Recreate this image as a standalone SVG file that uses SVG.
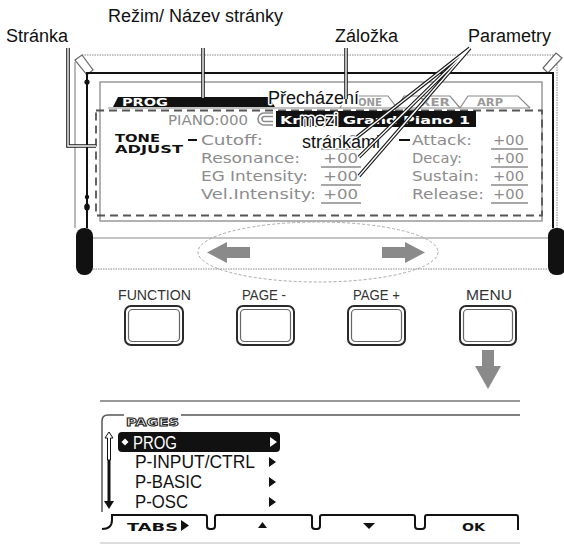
<svg xmlns="http://www.w3.org/2000/svg" width="564" height="545" viewBox="0 0 564 545">
<defs>
<style>
.lbl{font-family:"Liberation Sans",Arial,sans-serif;font-size:18px;fill:#111}
.halo{paint-order:stroke;stroke:#fff;stroke-width:3;stroke-linejoin:round}
.lcd{font-family:"DejaVu Sans",sans-serif;font-size:14px;fill:#8c8c8c}
.pxb{font-family:"DejaVu Sans",sans-serif;font-weight:bold;font-size:11px}
.btnl{font-family:"Liberation Sans",sans-serif;font-size:15px;fill:#333}
.menu{font-family:"Liberation Sans",sans-serif;font-size:18px}
.ldo{fill:none;stroke:#1a1a1a;stroke-width:3.6}
.ldi{fill:none;stroke:#fff;stroke-width:1.4}
.gray{fill:none;stroke:#8a8a8a;stroke-width:1.2}
.dot{fill:none;stroke:#888;stroke-width:1;stroke-dasharray:1.5 1}
.ul{fill:none;stroke:#8a8a8a;stroke-width:1.5}
.btno{fill:#fff;stroke:#2a2a2a;stroke-width:2}
.btni{fill:none;stroke:#666;stroke-width:1.2}
.arr{fill:#8a8a8a}
.blk{fill:#111}
</style>
</defs>

<g id="device-top">
  <path class="dot" d="M82,55 H556"/>
  <path class="gray" d="M75,62 V228"/>
  <path class="dot" d="M557,57 V230"/>
  <polygon points="75,60 82,55 93,70 87,75" fill="#fff" stroke="#666" stroke-width="1.2"/>
  <polygon points="548,73 543,68 556,53 562,58" fill="#fff" stroke="#666" stroke-width="1.2"/>
  <path d="M87,228 V73 H553 V228" fill="none" stroke="#111" stroke-width="2"/>
  <circle cx="87" cy="82" r="2.6" class="blk"/>
  <circle cx="87" cy="197" r="2.2" class="blk"/>
  <ellipse cx="87" cy="207" rx="2.8" ry="3.6" class="blk"/>
  <rect x="100" y="82" width="442" height="139" fill="none" stroke="#999" stroke-width="1.5"/>
  <path class="gray" d="M93,238 H548"/>
  <path class="dot" d="M93,269 H548"/>
  <rect x="76" y="228" width="17" height="47" rx="8" class="blk"/>
  <rect x="548" y="228" width="18" height="47" rx="8" class="blk"/>
  <ellipse cx="318" cy="252" rx="120" ry="30" fill="none" stroke="#aaa" stroke-width="1" stroke-dasharray="3 2"/>
  <polygon class="arr" points="207,252.5 227,242 227,247 250,247 250,258 227,258 227,263"/>
  <polygon class="arr" points="425,252.5 405,242 405,247 382,247 382,258 405,258 405,263"/>
</g>

<g id="display">
  <rect x="96" y="110.5" width="446" height="105" fill="none" stroke="#555" stroke-width="1.8" stroke-dasharray="8 5"/>
  <path class="gray" d="M108,108 H530"/>
  <polygon points="113,107 118,97 269,97 275,107" class="blk"/>
  <text class="pxb" x="122" y="106" fill="#fff" textLength="46" lengthAdjust="spacingAndGlyphs">PROG</text>
  <path class="gray" d="M340,108 L346,96 H388 L397,108 M397,108 L404,96 H450 L460,108 M460,108 L468,96 H518 L530,108"/>
  <text class="pxb" x="358" y="106" fill="#999" textLength="24" lengthAdjust="spacingAndGlyphs">ONE</text>
  <text class="pxb" x="420" y="106" fill="#999" textLength="30" lengthAdjust="spacingAndGlyphs">XER</text>
  <text class="pxb" x="477" y="106" fill="#999" textLength="26" lengthAdjust="spacingAndGlyphs">ARP</text>
  <text class="lcd" x="168" y="125" font-size="15" textLength="80" lengthAdjust="spacingAndGlyphs">PIANO:000</text>
  <path d="M273,113 H264 A6,6 0 0 0 264,125 H273 M273,116.5 H264.5 A2.5,2.5 0 0 0 264.5,121.5 H273" fill="none" stroke="#8c8c8c" stroke-width="1.6"/>
  <rect x="276" y="111" width="200" height="16" class="blk"/>
  <text class="pxb" x="280" y="124" font-size="14" fill="#fff" textLength="20" lengthAdjust="spacingAndGlyphs">Kr</text>
  <text class="pxb" x="343" y="124" font-size="14" fill="#fff" textLength="127" lengthAdjust="spacingAndGlyphs">Grand Piano 1</text>
  <text class="pxb" x="115" y="142" font-size="10" fill="#111" textLength="45" lengthAdjust="spacingAndGlyphs">TONE</text>
  <text class="pxb" x="115" y="153" font-size="10" fill="#111" textLength="68" lengthAdjust="spacingAndGlyphs">ADJUST</text>
  <path d="M188,140 H197 M399,140 H410" stroke="#111" stroke-width="2"/>
  <text class="lcd" x="201" y="145" textLength="62" lengthAdjust="spacingAndGlyphs">Cutoff:</text>
  <text class="lcd" x="201" y="163" textLength="99" lengthAdjust="spacingAndGlyphs">Resonance:</text>
  <text class="lcd" x="201" y="181" textLength="107" lengthAdjust="spacingAndGlyphs">EG Intensity:</text>
  <text class="lcd" x="201" y="199" textLength="115" lengthAdjust="spacingAndGlyphs">Vel.Intensity:</text>
  <text class="lcd" x="323" y="145" textLength="35" lengthAdjust="spacingAndGlyphs">+00</text>
  <text class="lcd" x="323" y="163" textLength="35" lengthAdjust="spacingAndGlyphs">+00</text>
  <text class="lcd" x="323" y="181" textLength="35" lengthAdjust="spacingAndGlyphs">+00</text>
  <text class="lcd" x="323" y="199" textLength="35" lengthAdjust="spacingAndGlyphs">+00</text>
  <text class="lcd" x="412" y="145" textLength="60" lengthAdjust="spacingAndGlyphs">Attack:</text>
  <text class="lcd" x="412" y="163" textLength="50" lengthAdjust="spacingAndGlyphs">Decay:</text>
  <text class="lcd" x="412" y="181" textLength="67" lengthAdjust="spacingAndGlyphs">Sustain:</text>
  <text class="lcd" x="412" y="199" textLength="72" lengthAdjust="spacingAndGlyphs">Release:</text>
  <text class="lcd" x="493" y="145" textLength="31" lengthAdjust="spacingAndGlyphs">+00</text>
  <text class="lcd" x="493" y="163" textLength="31" lengthAdjust="spacingAndGlyphs">+00</text>
  <text class="lcd" x="493" y="181" textLength="31" lengthAdjust="spacingAndGlyphs">+00</text>
  <text class="lcd" x="493" y="199" textLength="31" lengthAdjust="spacingAndGlyphs">+00</text>
  <path class="ul" d="M321,149 H361 M321,167 H361 M321,185 H361 M321,203 H361 M491,149 H528 M491,167 H528 M491,185 H528 M491,203 H528"/>
</g>

<g id="label-prechazeni">
  <text class="lbl halo" x="268" y="104">Přecházení</text>
  <text class="lbl halo" x="300" y="126">mezi</text>
  <text class="lbl halo" x="302" y="148">stránkami</text>
</g>

<g id="connectors">
  <path class="ldo" d="M68,48 V146 H96"/>
  <path class="ldi" d="M68,48 V146 H96"/>
  <path class="ldo" d="M203,48 V98"/>
  <path class="ldi" d="M203,48 V98"/>
  <path class="ldo" d="M346,48 V99"/>
  <path class="ldi" d="M346,48 V99"/>
  <path class="ldo" d="M470,48 L357,137 M470,48 L359,157 M470,48 L359,176"/>
  <path class="ldi" d="M470,48 L357,137 M470,48 L359,157 M470,48 L359,176"/>
</g>

<g id="label-stranka"><text class="lbl" x="6" y="42">Stránka</text></g>
<g id="label-rezim"><text class="lbl" x="108" y="22">Režim/ Název stránky</text></g>
<g id="label-zalozka"><text class="lbl" x="335" y="42">Záložka</text></g>
<g id="label-parametry"><text class="lbl" x="468" y="42">Parametry</text></g>

<g id="btn-function">
  <text class="btnl" x="118" y="300" textLength="73" lengthAdjust="spacingAndGlyphs">FUNCTION</text>
  <rect class="btno" x="125" y="306" width="58" height="39" rx="6"/>
  <rect class="btni" x="128.5" y="309.5" width="51" height="32" rx="4"/>
</g>
<g id="btn-page-minus">
  <text class="btnl" x="242" y="300" textLength="44" lengthAdjust="spacingAndGlyphs">PAGE -</text>
  <rect class="btno" x="237" y="306" width="57" height="39" rx="6"/>
  <rect class="btni" x="240.5" y="309.5" width="50" height="32" rx="4"/>
</g>
<g id="btn-page-plus">
  <text class="btnl" x="353" y="300" textLength="47" lengthAdjust="spacingAndGlyphs">PAGE +</text>
  <rect class="btno" x="348" y="306" width="57" height="39" rx="6"/>
  <rect class="btni" x="351.5" y="309.5" width="50" height="32" rx="4"/>
</g>
<g id="btn-menu">
  <text class="btnl" x="466" y="300" textLength="46" lengthAdjust="spacingAndGlyphs">MENU</text>
  <rect class="btno" x="460" y="306" width="56" height="39" rx="6"/>
  <rect class="btni" x="463.5" y="309.5" width="49" height="32" rx="4"/>
</g>

<g id="menu-arrow">
  <polygon class="arr" points="482,350 494,350 494,366 501,366 488,389 475,366 482,366"/>
</g>

<g id="pages-screen">
  <path d="M100,401 H520" fill="none" stroke="#777" stroke-width="1.5"/>
  <path d="M102,512 V421 Q102,415 108,415 H520" fill="none" stroke="#555" stroke-width="1.5"/>
  <path d="M100,543 H520" fill="none" stroke="#bbb" stroke-width="1"/>
  <rect x="124" y="413" width="57" height="15" fill="#fff"/>
  <text class="pxb" x="126" y="426" fill="#fff" stroke="#222" stroke-width="0.9" textLength="53" lengthAdjust="spacingAndGlyphs">PAGES</text>
  <path d="M109,432 L105,438 H107.5 V460 H110.5 V438 H113 Z" fill="#fff" stroke="#111" stroke-width="1"/>
  <rect x="107.5" y="460" width="3" height="42" class="blk"/>
  <polygon points="104,501 114,501 109,509" class="blk"/>
  <rect x="118" y="432" width="162" height="20" rx="4" class="blk"/>
  <polygon points="125,438.5 128.5,442 125,445.5 121.5,442" fill="#fff"/>
  <text class="menu" x="133" y="448.5" style="fill:#fff" textLength="44" lengthAdjust="spacingAndGlyphs">PROG</text>
  <polygon points="270,437 270,447 277,442" fill="#fff"/>
  <text class="menu" x="135" y="468" style="fill:#111" textLength="120" lengthAdjust="spacingAndGlyphs">P-INPUT/CTRL</text>
  <polygon points="269,457 269,467 276,462" class="blk"/>
  <text class="menu" x="135" y="488" style="fill:#111" textLength="67" lengthAdjust="spacingAndGlyphs">P-BASIC</text>
  <polygon points="269,477 269,487 276,482" class="blk"/>
  <text class="menu" x="135" y="508" style="fill:#111" textLength="53" lengthAdjust="spacingAndGlyphs">P-OSC</text>
  <polygon points="269,497 269,507 276,502" class="blk"/>
  <path d="M102,529 Q112,529 112,520 V515 H205 Q207,515 207,517 V526 Q207,529 210,529 H212 Q215,529 215,526 V517 Q215,515 217,515 H310 Q312,515 312,517 V526 Q312,529 315,529 H317 Q320,529 320,526 V517 Q320,515 322,515 H413 Q415,515 415,517 V526 Q415,529 418,529 H422 Q425,529 425,526 V517 Q425,515 427,515 H516 Q518,515 518,517 V530" fill="none" stroke="#111" stroke-width="2"/>
  <text class="pxb" x="127" y="531" font-size="12" fill="#111" textLength="51" lengthAdjust="spacingAndGlyphs">TABS</text>
  <polygon points="181,520 181,531 189,525.5" class="blk"/>
  <polygon points="258,528 267,528 262.5,522" class="blk"/>
  <polygon points="363,523 375,523 369,529" class="blk"/>
  <text class="pxb" x="462" y="531" font-size="12" fill="#111" textLength="23" lengthAdjust="spacingAndGlyphs">OK</text>
</g>
</svg>
